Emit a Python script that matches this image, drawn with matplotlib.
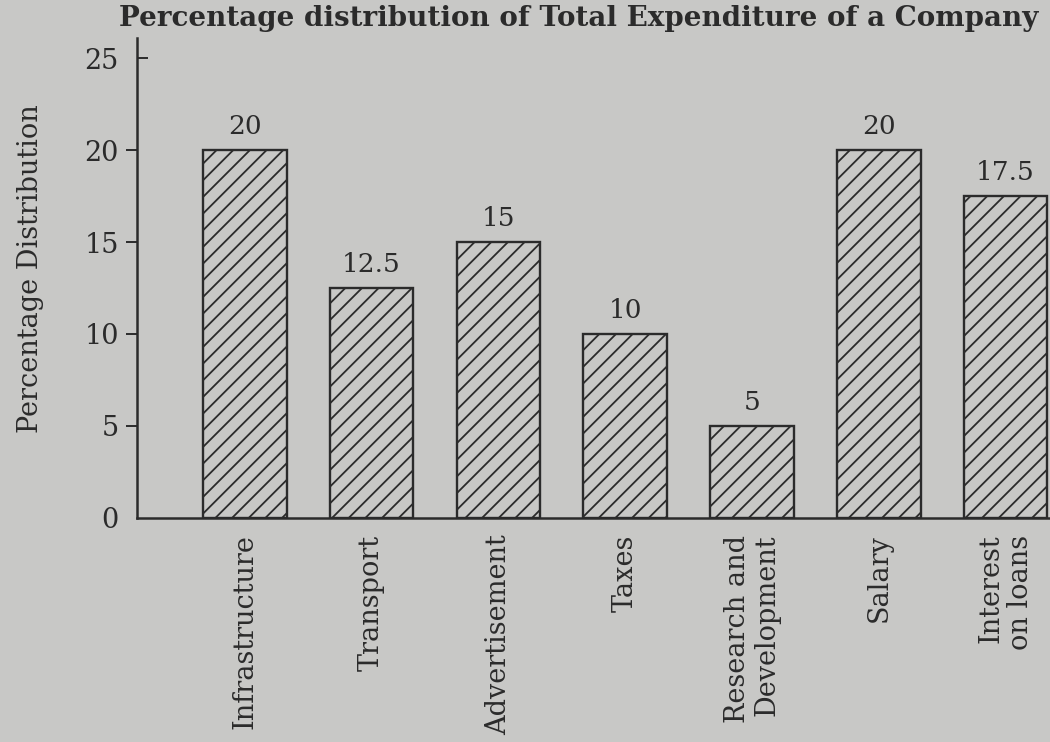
import matplotlib
matplotlib.use("Agg")
import matplotlib.pyplot as plt
import matplotlib.markers as mmarkers

categories = ["Infrastructure", "Transport", "Advertisement", "Taxes",
              "Research and\nDevelopment", "Salary", "Interest\non loans"]
values = [20, 12.5, 15, 10, 5, 20, 17.5]
value_labels = ["20", "12.5", "15", "10", "5", "20", "17.5"]
yticks = [0, 5, 10, 15, 20, 25]

ink = "#2b2b2b"
bg = "#c8c8c6"

plt.rcParams["font.family"] = ["DejaVu Serif"]
plt.rcParams["hatch.linewidth"] = 1.3
plt.rcParams["hatch.color"] = ink

fig = plt.figure(figsize=(10.5, 7.42), dpi=100, facecolor=bg)
ax = fig.add_axes([0.1305, 0.302, 0.8695, 0.647])
ax.set_facecolor(bg)

x = list(range(len(categories)))
bars = ax.bar(x, values, width=0.66, facecolor="none", edgecolor=ink,
              hatch="//", linewidth=1.7)

for xi, v, lab in zip(x, values, value_labels):
    ax.annotate(lab, (xi, v), xytext=(0, 8), textcoords="offset points",
                ha="center", va="bottom", fontsize=19, color=ink)

ax.set_xlim(-0.85, 6.35)
ax.set_ylim(0, 26.1)
ax.set_yticks(yticks)
ax.set_yticklabels([str(t) for t in yticks], fontsize=19.5, color=ink)
ax.set_xticks(x)
ax.set_xticklabels(categories, rotation=90, fontsize=19.5, color=ink,
                   va="top", ha="center", multialignment="right",
                   linespacing=1.1)
ax.tick_params(axis="x", length=0, pad=12)
ax.tick_params(axis="y", direction="out", length=8, width=1.4, color=ink, pad=5)
# top tick points inward like the reference
ax.yaxis.get_major_ticks()[-1].tick1line.set_marker(mmarkers.TICKRIGHT)
ax.yaxis.get_major_ticks()[0].tick1line.set_visible(False)

for s in ["top", "right"]:
    ax.spines[s].set_visible(False)
for s in ["left", "bottom"]:
    ax.spines[s].set_color(ink)
    ax.spines[s].set_linewidth(1.8)

ax.set_ylabel("Percentage Distribution", fontsize=19.5, color=ink)
ax.yaxis.set_label_coords(-0.102, 0.52)

fig.text(0.551, 0.975, "Percentage distribution of Total Expenditure of a Company",
         ha="center", va="center", fontsize=20, fontweight="bold", color=ink)

fig.savefig("out.png", dpi=100, facecolor=bg)
